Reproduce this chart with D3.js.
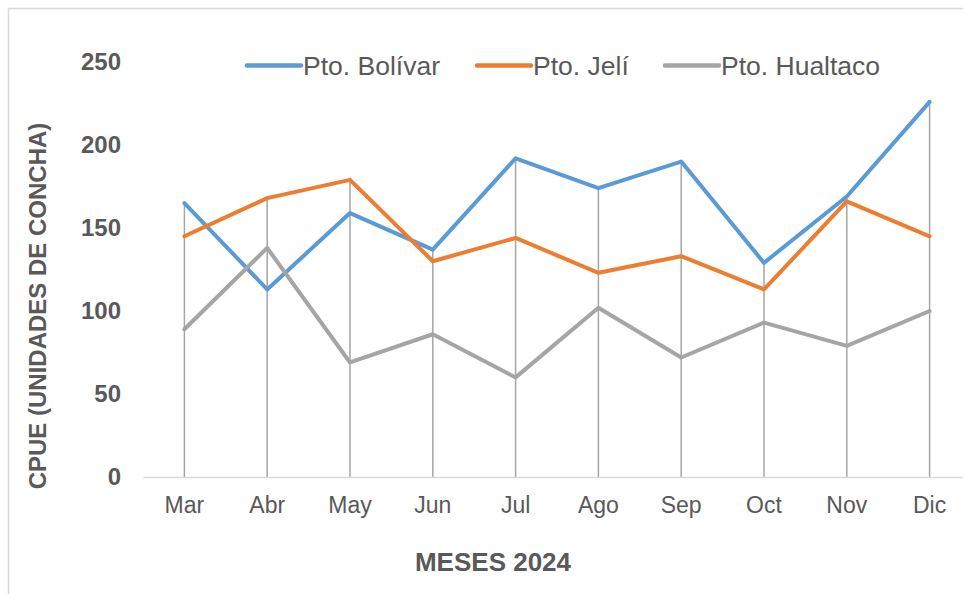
<!DOCTYPE html>
<html>
<head>
<meta charset="utf-8">
<script src="https://cdn.jsdelivr.net/npm/d3@7"></script>
<style>
  html, body { margin: 0; padding: 0; background: #fff; overflow: hidden; }
  text { font-family: "Liberation Sans", Arial, sans-serif; fill: #595959; }
</style>
</head>
<body>
<svg id="chart" width="963" height="594"></svg>
<script>
// datos del gráfico
const meses = ["Mar", "Abr", "May", "Jun", "Jul", "Ago", "Sep", "Oct", "Nov", "Dic"];
const bolivar = [165, 113, 159, 137, 192, 174, 190, 129, 169, 226];
const jeli = [145, 168, 179, 130, 144, 123, 133, 113, 166, 145];
const hualtaco = [89, 138, 69, 86, 60, 102, 72, 93, 79, 100];
const yTicks = [0, 50, 100, 150, 200, 250];

const series = [
  {name: "Pto. Bolívar", values: bolivar, color: "#5B9BD5"},
  {name: "Pto. Jelí", values: jeli, color: "#ED7D31"},
  {name: "Pto. Hualtaco", values: hualtaco, color: "#A5A5A5"}
];

const margin = {top: 62, right: -8, bottom: 117, left: 143},
      width = 963 - margin.left - margin.right,
      height = 594 - margin.top - margin.bottom;

const svg = d3.select("#chart");

// borde del área del gráfico
svg.append("rect")
    .attr("x", 8.5).attr("y", 8.5)
    .attr("width", 1000).attr("height", 620)
    .attr("fill", "#fff")
    .attr("stroke", "#d9d9d9")
    .attr("stroke-width", 1.5);

const g = svg.append("g").attr("transform", `translate(${margin.left},${margin.top})`);

const x = d3.scaleBand().domain(meses).range([0, width]);
const y = d3.scaleLinear().domain([0, 250]).range([height, 0]);
const cx = d => x(d) + x.bandwidth() / 2;

// líneas de caída
g.selectAll(".drop")
    .data(meses)
    .enter()
    .append("line")
    .attr("x1", d => cx(d))
    .attr("x2", d => cx(d))
    .attr("y1", (d, i) => y(d3.max(series, s => s.values[i])))
    .attr("y2", y(0))
    .attr("stroke", "#A5A5A5")
    .attr("stroke-width", 1.5);

// eje x
const xAxis = g.append("g")
    .attr("transform", `translate(0,${height})`)
    .call(d3.axisBottom(x).tickSize(0).tickPadding(20));
xAxis.select(".domain").attr("stroke", "#d9d9d9").attr("stroke-width", 1.5);
xAxis.selectAll("text")
    .attr("font-size", "23px")
    .style("font-family", "Liberation Sans, Arial, sans-serif")
    .attr("fill", "#595959");

// eje y
const yAxis = g.append("g")
    .call(d3.axisLeft(y).tickValues(yTicks).tickSize(0).tickPadding(22));
yAxis.select(".domain").remove();
yAxis.selectAll("text")
    .attr("font-size", "24px")
    .attr("font-weight", "bold")
    .style("font-family", "Liberation Sans, Arial, sans-serif")
    .attr("fill", "#595959");

// series
const line = d3.line()
    .x((d, i) => cx(meses[i]))
    .y(d => y(d));

series.forEach(s => {
  g.append("path")
      .datum(s.values)
      .attr("fill", "none")
      .attr("stroke", s.color)
      .attr("stroke-width", 4)
      .attr("stroke-linejoin", "round")
      .attr("stroke-linecap", "round")
      .attr("d", line);
});

// leyenda
const legendX = [247, 477, 665];
series.forEach((s, i) => {
  svg.append("line")
      .attr("x1", legendX[i]).attr("x2", legendX[i] + 54)
      .attr("y1", 65.5).attr("y2", 65.5)
      .attr("stroke", s.color)
      .attr("stroke-width", 4.5)
      .attr("stroke-linecap", "round");
  svg.append("text")
      .attr("x", legendX[i] + 56)
      .attr("y", 75)
      .attr("font-size", "26.5px")
      .text(s.name);
});

// títulos de ejes
svg.append("text")
    .attr("x", 493)
    .attr("y", 571)
    .attr("text-anchor", "middle")
    .attr("font-size", "26px")
    .attr("font-weight", "bold")
    .text("MESES 2024");

svg.append("text")
    .attr("transform", "translate(46,306) rotate(-90)")
    .attr("text-anchor", "middle")
    .attr("font-size", "24px")
    .attr("font-weight", "bold")
    .text("CPUE (UNIDADES DE CONCHA)");
</script>
</body>
</html>
